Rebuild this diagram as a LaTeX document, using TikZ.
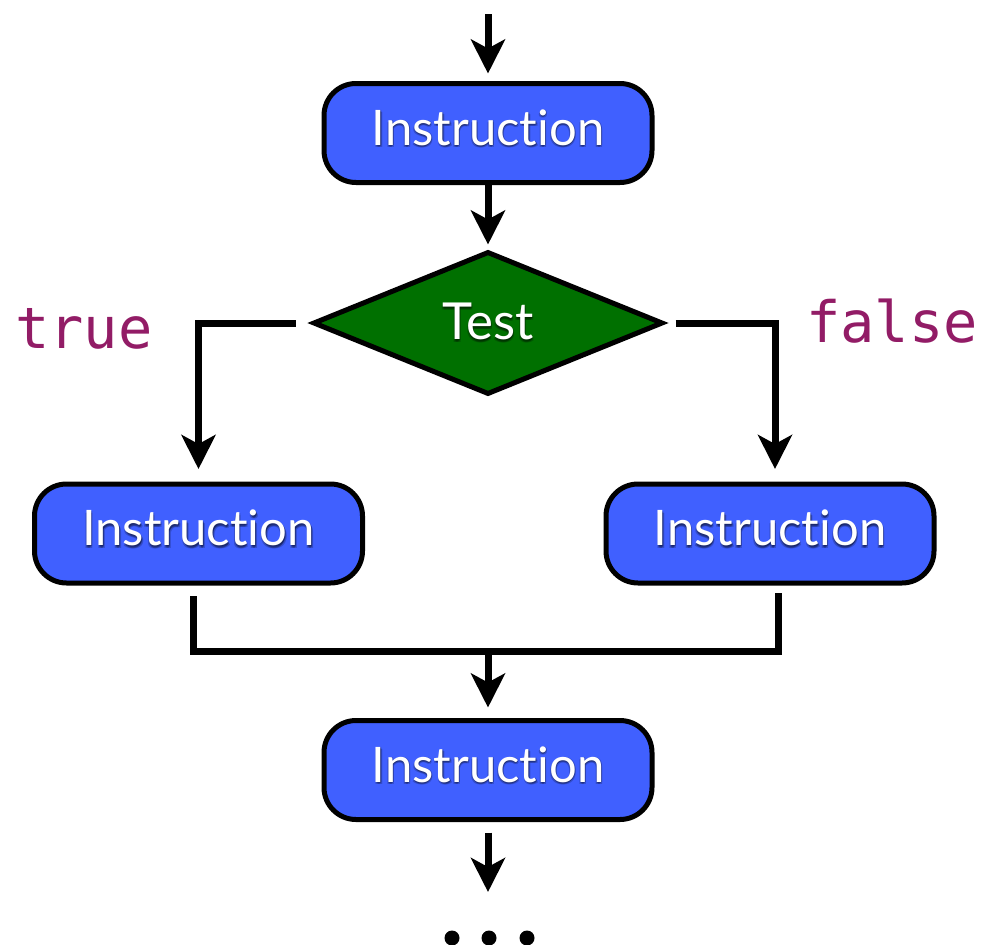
\documentclass[tikz,border=0pt]{standalone}
\usepackage{fontspec}
\setmainfont{Lato}[Ligatures=NoCommon,Contextuals=NoAlternate]
\newfontfamily\codefont{DejaVu Sans Mono}
\usetikzlibrary{arrows.meta,shapes.geometric}

\definecolor{instrblue}{RGB}{64,96,255}
\definecolor{testgreen}{RGB}{0,112,0}
\definecolor{keyword}{RGB}{146,28,102}

% white lettering with a soft dark halo underneath
\newcommand\haloed[1]{%
  \leavevmode\rlap{\begin{pgfscope}\pgfsetfillopacity{0.2}\color{black}%
    \rlap{\kern0.5pt\raisebox{-1.5pt}{#1}}%
    \rlap{\kern1.5pt\raisebox{-2.5pt}{#1}}%
    \rlap{\kern-0.5pt\raisebox{-2.5pt}{#1}}%
    \rlap{\kern1pt\raisebox{-0.5pt}{#1}}%
  \end{pgfscope}}#1}

\tikzset{
  instr/.style={draw=black, line width=5pt, fill=instrblue, rectangle,
    rounded corners=32pt, minimum width=328pt, minimum height=99pt,
    inner sep=0pt, text=white, font=\fontsize{49}{58}\selectfont,
    text height=37pt, text depth=13pt},
  decision/.style={draw=black, line width=5pt, fill=testgreen, diamond,
    minimum width=350pt, minimum height=143pt, inner sep=0pt, text=white,
    font=\fontsize{51}{58}\selectfont},
  flow/.style={line width=7pt},
  arrow/.style={flow, -{Stealth[length=34pt,width=34pt,inset=9pt]}},
  branchlabel/.style={text=keyword, font=\codefont\fontsize{57}{64}\selectfont,
    inner sep=0pt}
}

\begin{document}
\begin{tikzpicture}[x=1pt,y=-1pt]
  \useasboundingbox (0,0) rectangle (988,945);

  \coordinate (start) at (488,14);
  \node[instr] (i1) at (488,133) {\haloed{Instruction}};
  \node[decision] (test) at (488,323) {\haloed{Test}};
  \node[instr] (left) at (198.5,533.5) {\haloed{Instruction}};
  \node[instr] (right) at (770,533.5) {\haloed{Instruction}};
  \coordinate (join) at (488,651);
  \node[instr] (i2) at (488,770) {\haloed{Instruction}};
  \coordinate (more) at (488,892);

  \node[branchlabel, anchor=base west] (truelbl) at (15,348) {true};
  \node[branchlabel, anchor=base west] (falselbl) at (806,342) {false};

  % main flow
  \draw[arrow, shorten >=7.5pt] (start) -- (i1.north);
  \draw[arrow, shorten >=4.5pt] (i1.south) -- (test.north);

  % branches
  \draw[arrow, shorten <=15pt, shorten >=12.5pt] (test.west) -| (left.north);
  \draw[arrow, shorten <=10pt, shorten >=12.5pt] (test.east) -| ([xshift=5pt]right.north);

  % merge
  \draw[flow] ([xshift=-5.5pt,yshift=-10.5pt]left.south) |- (join)
              -| ([xshift=8pt,yshift=-7.5pt]right.south);
  \draw[arrow, shorten >=10.5pt] (join) -- (i2.north);

  % continuation
  \draw[arrow, shorten <=10.5pt] (i2.south) -- (more);
  \fill (452,938) circle[radius=7.5pt];
  \fill (489,938) circle[radius=7.5pt];
  \fill (527,938) circle[radius=7.5pt];
\end{tikzpicture}
\end{document}
